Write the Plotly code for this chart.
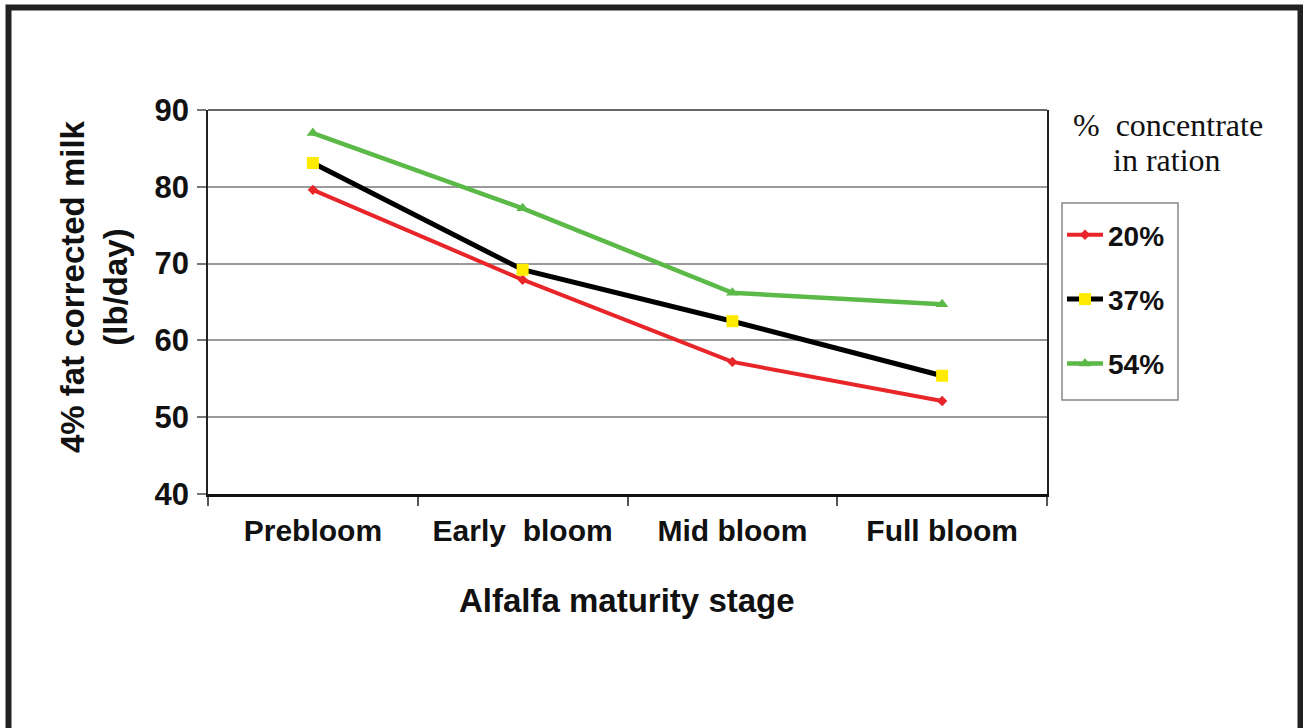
import plotly.graph_objects as go

# Alfalfa maturity stages (x categories)
stages = ["Prebloom", "Early\u00a0 bloom", "Mid bloom", "Full bloom"]

# 4% fat corrected milk, lb/day, by % concentrate in ration
milk_20 = [79.6, 67.9, 57.2, 52.1]
milk_37 = [83.1, 69.2, 62.5, 55.4]
milk_54 = [87.0, 77.2, 66.2, 64.7]

series_names = ["20%", "37%", "54%"]
y_ticks = [40, 50, 60, 70, 80, 90]

W, H = 1303, 728
L, R, T, B = 208, 256, 110, 234
pw, ph = W - L - R, H - T - B


def px_x(x):
    return (x - L) / pw


def px_y(y):
    return (H - B - y) / ph


bold = "Liberation Sans"

fig = go.Figure()
fig.add_trace(go.Scatter(
    x=stages, y=milk_20, name=series_names[0], mode="lines+markers",
    line=dict(color="#E8262A", width=4),
    marker=dict(symbol="diamond", size=8, color="#E8262A"),
    legendgroup="a"))
fig.add_trace(go.Scatter(
    x=stages, y=milk_37, name=series_names[1], mode="lines+markers",
    line=dict(color="#000000", width=5),
    marker=dict(symbol="square", size=12, color="#FFEB00"),
    legendgroup="b"))
fig.add_trace(go.Scatter(
    x=stages, y=milk_54, name=series_names[2], mode="lines+markers",
    line=dict(color="#5BB947", width=4.5),
    marker=dict(symbol="triangle-up", size=11, color="#5BB947"),
    legendgroup="c"))

fig.update_layout(
    width=W, height=H,
    margin=dict(l=L, r=R, t=T, b=B),
    paper_bgcolor="white", plot_bgcolor="white",
    showlegend=True,
    legend=dict(
        x=px_x(1062), y=px_y(210), xanchor="left", yanchor="top",
        borderwidth=0, bgcolor="rgba(0,0,0,0)",
        font=dict(family=bold, size=28, color="#111", weight="bold"),
        tracegroupgap=25, itemwidth=36,
    ),
    xaxis=dict(
        type="category", range=[-0.5, 3.5],
        showline=True, linecolor="#111", linewidth=3,
        ticks="outside", tickson="boundaries", ticklen=9, tickcolor="#555",
        tickwidth=1.5, showgrid=False,
        tickfont=dict(family=bold, size=30, color="#111", weight="bold"),
        ticklabelstandoff=8,
    ),
    yaxis=dict(
        range=[40, 90], tickvals=y_ticks,
        showline=True, linecolor="#222", linewidth=1.5, mirror=True,
        ticks="outside", ticklen=9, tickcolor="#777", tickwidth=1.5,
        showgrid=True, gridcolor="#9a9a9a", gridwidth=1.5,
        tickfont=dict(family=bold, size=31, color="#111", weight="bold"),
        ticklabelstandoff=2,
    ),
)

# top edge of the plotting area
fig.add_shape(type="line", xref="paper", yref="paper", x0=0, x1=1, y0=1, y1=1,
              line=dict(color="#333", width=1.5))

# legend box
fig.add_shape(type="rect", xref="paper", yref="paper",
              x0=px_x(1062), x1=px_x(1178), y0=px_y(400), y1=px_y(203),
              line=dict(color="#888888", width=1.5))

# outer frame around the whole figure
fig.add_shape(type="rect", xref="paper", yref="paper",
              x0=px_x(8.5), x1=px_x(1300.5), y0=px_y(740), y1=px_y(7.5),
              line=dict(color="#222", width=6), layer="above")

fig.add_annotation(
    text="Alfalfa maturity stage", xref="paper", yref="paper",
    x=px_x(627), y=px_y(600), xanchor="center", yanchor="middle",
    showarrow=False,
    font=dict(family=bold, size=33, color="#111", weight="bold"))

fig.add_annotation(
    text="4% fat corrected milk<br>(lb/day)", xref="paper", yref="paper",
    x=px_x(52), y=px_y(287), showarrow=False, textangle=-90,
    font=dict(family=bold, size=33, color="#111", weight="bold"))

# legend heading, two lines
fig.add_annotation(
    text="%  concentrate", xref="paper", yref="paper",
    x=px_x(1071), y=px_y(125), xanchor="left", yanchor="middle",
    showarrow=False,
    font=dict(family="Liberation Serif", size=32, color="#111"))
fig.add_annotation(
    text="in ration", xref="paper", yref="paper",
    x=px_x(1111), y=px_y(160), xanchor="left", yanchor="middle",
    showarrow=False,
    font=dict(family="Liberation Serif", size=32, color="#111"))

fig.write_html("out.html")
